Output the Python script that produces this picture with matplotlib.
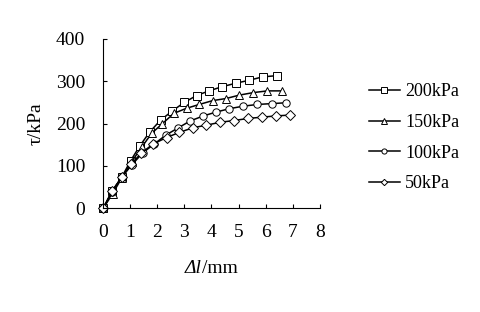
import matplotlib
matplotlib.use("Agg")
import matplotlib.pyplot as plt
from matplotlib.offsetbox import TextArea, HPacker, AnchoredOffsetbox

plt.rcParams['font.family'] = ['Liberation Serif', 'DejaVu Serif']

# shear displacement (mm) and shear stress (kPa) per normal stress
x_200 = [0, 0.33, 0.68, 1.01, 1.36, 1.73, 2.12, 2.56, 3.0, 3.45, 3.91, 4.40, 4.90, 5.39, 5.89, 6.44]
y_200 = [0, 41, 73, 112, 148, 181, 208, 230, 250, 266, 277, 287, 295, 302, 310, 313]
x_150 = [0, 0.35, 0.68, 1.05, 1.42, 1.79, 2.19, 2.61, 3.08, 3.55, 4.04, 4.54, 5.03, 5.55, 6.07, 6.60]
y_150 = [0, 35, 71, 110, 144, 177, 200, 224, 236, 245, 254, 259, 267, 273, 277, 277]
x_100 = [0, 0.31, 0.68, 1.05, 1.46, 1.89, 2.32, 2.75, 3.21, 3.70, 4.17, 4.66, 5.18, 5.70, 6.23, 6.76]
y_100 = [0, 39, 73, 102, 131, 152, 173, 189, 206, 218, 227, 235, 241, 245, 247, 249]
x_50 = [0, 0.33, 0.68, 1.03, 1.40, 1.85, 2.34, 2.81, 3.31, 3.80, 4.32, 4.82, 5.35, 5.86, 6.39, 6.90]
y_50 = [0, 40, 73, 104, 130, 152, 167, 179, 190, 196, 203, 207, 212, 215, 218, 220]

labels = ['200kPa', '150kPa', '100kPa', '50kPa']
markers = ['s', '^', 'o', 'D']

fig = plt.figure(figsize=(4.8, 3.12), dpi=100)
ax = fig.add_axes([0.215, 0.332, 0.451, 0.544])

series = [(x_200, y_200), (x_150, y_150), (x_100, y_100), (x_50, y_50)]
for (xs, ys), lab, m in zip(series, labels, markers):
    ms = 4.6 if m == 'D' else 5.3
    ax.plot(xs, ys, color='black', lw=1.1, marker=m, ms=ms,
            mfc='white', mec='black', mew=0.7, label=lab, clip_on=False)

ax.set_xlim(0, 8)
ax.set_ylim(0, 400)
ax.set_xticks(range(0, 9))
ax.set_yticks([0, 100, 200, 300, 400])
ax.spines['top'].set_visible(False)
ax.spines['right'].set_visible(False)
ax.tick_params(direction='in', length=3, width=0.8, labelsize=14)
ax.tick_params(axis='x', pad=11)
ax.tick_params(axis='y', pad=13)
ax.set_ylabel('τ/kPa', fontsize=14, labelpad=8)

# x label: italic "Δl" followed by upright "/mm"
part1 = TextArea('Δl', textprops=dict(fontsize=14, style='italic'))
part2 = TextArea('/mm', textprops=dict(fontsize=14))
box = HPacker(children=[part1, part2], pad=0, sep=0, align='baseline')
xlab = AnchoredOffsetbox(loc='center', child=box, pad=0, borderpad=0,
                         frameon=False, bbox_to_anchor=(0.44, 0.141),
                         bbox_transform=fig.transFigure)
fig.add_artist(xlab)

leg = ax.legend(loc='center left', bbox_to_anchor=(0.769, 0.558),
                bbox_transform=fig.transFigure, frameon=False, fontsize=13,
                handlelength=1.7, markerscale=0.7, labelspacing=0.76,
                handletextpad=0.3, borderpad=0, borderaxespad=0)

fig.savefig('out.png', dpi=100)
